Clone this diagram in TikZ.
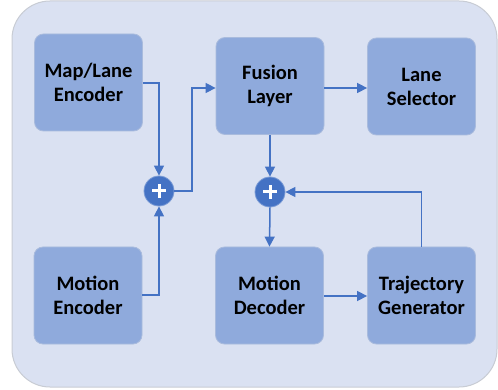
\documentclass[tikz,border=0pt]{standalone}
\usepackage{fontspec}
\setmainfont{Carlito}
\usetikzlibrary{arrows.meta}
\definecolor{bgfill}{HTML}{DAE1F2}
\definecolor{bgline}{HTML}{C8CCD4}
\definecolor{boxfill}{HTML}{8FAADC}
\definecolor{boxline}{HTML}{A9BBDD}
\definecolor{arrowc}{HTML}{4472C4}
\tikzset{
  x=1pt, y=1pt,
  blk/.style={draw=boxline, line width=0.8pt, fill=boxfill, rounded corners=9pt,
    minimum width=108pt, minimum height=97pt, inner sep=0pt, align=center,
    font=\fontsize{20.5}{24}\selectfont\bfseries, text=black},
  sumnode/.style={circle, fill=arrowc, draw=arrowc!70!white, line width=0.8pt, minimum size=30pt, inner sep=0pt},
  conn/.style={draw=arrowc, line width=1.5pt, -{Triangle[length=10pt,width=10pt]}},
}
\begin{document}
\begin{tikzpicture}
\useasboundingbox (0,0) rectangle (498,-390);
\draw[bgline, fill=bgfill, line width=1pt, rounded corners=38pt] (12,-1) rectangle (497,-387);

\node[blk] (map) at (88.5,-82.5) {Map/Lane\\Encoder};
\node[blk] (menc) at (88,-295.5) {Motion\\Encoder};
\node[blk] (fus) at (270,-86) {Fusion\\Layer};
\node[blk] (sel) at (421.5,-86.5) {Lane\\Selector};
\node[blk] (mdec) at (269.5,-295.5) {Motion\\Decoder};
\node[blk] (traj) at (421.5,-295.5) {Trajectory\\Generator};

\node[sumnode] (s1) at (159,-191) {};
\node[sumnode] (s2) at (270,-192) {};
\foreach \s in {s1,s2}{
  \draw[white, line width=3pt] ([xshift=-7pt]\s.center) -- ([xshift=7pt]\s.center);
  \draw[white, line width=3pt] ([yshift=-7pt]\s.center) -- ([yshift=7pt]\s.center);
}

\draw[conn] (map.east |- 0,-83) -| (s1.north);
\draw[conn] (menc.east |- 0,-295) -| (s1.south);
\draw[conn] (s1.east) -| (192,-88) -- (fus.west |- 0,-88);
\draw[conn] (fus.east |- 0,-88) -- (sel.west |- 0,-88);
\draw[conn] (fus.south) -- (s2.north);
\draw[conn] (s2.south) -- (mdec.north);
\draw[conn] (mdec.east |- 0,-296) -- (traj.west |- 0,-296);
\draw[conn] (traj.north) |- (s2.east);
\end{tikzpicture}
\end{document}
